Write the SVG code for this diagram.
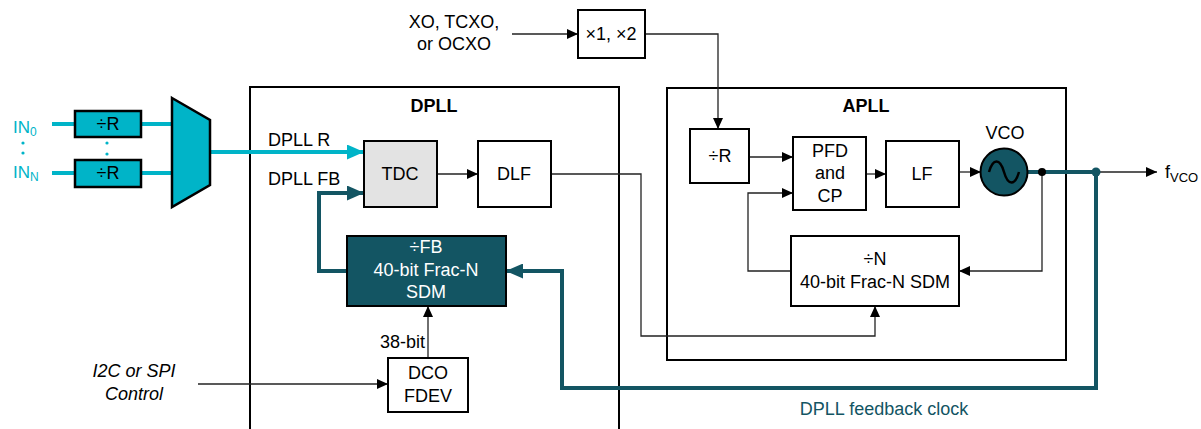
<svg xmlns="http://www.w3.org/2000/svg" width="1201" height="429" viewBox="0 0 1201 429">
<style>
text{font-family:"Liberation Sans",Arial,sans-serif;font-size:18px;fill:#000}
.c{text-anchor:middle}
.b{font-weight:bold}
.box{fill:#fff;stroke:#000;stroke-width:2}
.frame{fill:none;stroke:#000;stroke-width:2}
.thin{fill:none;stroke:#222;stroke-width:1.3}
.cy{fill:none;stroke:#00b4c8;stroke-width:4}
.tl{fill:none;stroke:#135563;stroke-width:4}
.cybox{fill:#00b4c8;stroke:#000;stroke-width:2.5}
.ct{fill:#00b4c8}
.w{fill:#fff}
.tt{fill:#135563}
</style>
<defs>
<marker id="a" markerUnits="userSpaceOnUse" markerWidth="11" markerHeight="10" viewBox="0 0 11 10" refX="11" refY="5" orient="auto"><path d="M0,0 L11,5 L0,10 z" fill="#000"/></marker>
<marker id="ac" markerUnits="userSpaceOnUse" markerWidth="17" markerHeight="15" viewBox="0 0 17 15" refX="17" refY="7.5" orient="auto"><path d="M0,0 L17,7.5 L0,15 z" fill="#00b4c8"/></marker>
<marker id="at" markerUnits="userSpaceOnUse" markerWidth="17" markerHeight="15" viewBox="0 0 17 15" refX="17" refY="7.5" orient="auto"><path d="M0,0 L17,7.5 L0,15 z" fill="#135563"/></marker>
</defs>
<rect width="1201" height="429" fill="#fff"/>

<g id="dpll">
<path class="frame" d="M250,440 V87 H619 V440"/>
<text class="c b" x="434" y="112">DPLL</text>
</g>
<g id="apll">
<rect class="frame" x="667" y="88" width="399" height="272"/>
<text class="c b" x="866" y="112">APLL</text>
</g>

<g id="connectors">
<path class="cy" d="M52,124 H75 M141,124 H172 M52,173 H75 M141,173 H172"/>
<path class="cy" d="M210,152 H364" marker-end="url(#ac)"/>
<path class="tl" d="M347,271 H319 V193 H364" marker-end="url(#at)"/>
<path class="tl" d="M1027,172 H1096 V388 H562 V271 H506" marker-end="url(#at)"/>
<path class="thin" d="M512,34 H578" marker-end="url(#a)"/>
<path class="thin" d="M645,34 H718 V129" marker-end="url(#a)"/>
<path class="thin" d="M749,157 H793" marker-end="url(#a)"/>
<path class="thin" d="M791,271 H748 V193 H793" marker-end="url(#a)"/>
<path class="thin" d="M866,174 H886" marker-end="url(#a)"/>
<path class="thin" d="M959,172 H981" marker-end="url(#a)"/>
<path class="thin" d="M1096,172 H1157" marker-end="url(#a)"/>
<path class="thin" d="M1042,172 V271 H959" marker-end="url(#a)"/>
<path class="thin" d="M437,174 H478" marker-end="url(#a)"/>
<path class="thin" d="M551,174 H641 V336 H875 V306" marker-end="url(#a)"/>
<path class="thin" d="M428,358 V306" marker-end="url(#a)"/>
<path class="thin" d="M198,384 H388" marker-end="url(#a)"/>
<circle cx="1042" cy="172" r="4" fill="#000"/>
<circle cx="1096" cy="172" r="4.5" fill="#135563"/>
<text class="c tt" x="884" y="415">DPLL feedback clock</text>
<text x="268" y="146">DPLL R</text>
<text x="268" y="185">DPLL FB</text>
<text x="425" y="348" text-anchor="end">38-bit</text>
</g>

<g id="inputs">
<text class="ct" x="13" y="133" font-size="17" style="font-size:17px">IN<tspan dy="3" style="font-size:12px">0</tspan></text>
<text class="ct" x="13" y="178" style="font-size:17px">IN<tspan dy="3" style="font-size:12px">N</tspan></text>
<circle class="ct" cx="23" cy="143" r="1.6"/>
<circle class="ct" cx="23" cy="153" r="1.6"/>
<circle class="ct" cx="107" cy="143" r="1.6"/>
<circle class="ct" cx="107" cy="154" r="1.6"/>
</g>
<g id="divR0">
<rect class="cybox" x="75" y="111" width="66" height="26"/>
<text class="c" x="108" y="130">÷R</text>
</g>
<g id="divRN">
<rect class="cybox" x="75" y="160" width="66" height="27"/>
<text class="c" x="108" y="179">÷R</text>
</g>
<g id="mux">
<path class="cybox" d="M172,98 L210,120 L210,185 L172,207 Z"/>
</g>

<g id="tdc">
<rect class="box" x="364" y="141" width="73" height="66" fill="#e3e3e3" style="fill:#e3e3e3"/>
<text class="c" x="400" y="180">TDC</text>
</g>
<g id="dlf">
<rect class="box" x="478" y="141" width="73" height="66"/>
<text class="c" x="514" y="180">DLF</text>
</g>
<g id="fbdiv">
<rect x="347" y="236" width="159" height="70" fill="#135563" stroke="#000" stroke-width="2"/>
<text class="c w" x="426" y="253">÷FB</text>
<text class="c w" x="426" y="276">40-bit Frac-N</text>
<text class="c w" x="426" y="298">SDM</text>
</g>
<g id="dco">
<rect class="box" x="388" y="358" width="80" height="54"/>
<text class="c" x="428" y="379">DCO</text>
<text class="c" x="428" y="402">FDEV</text>
</g>
<g id="i2c">
<text class="c" x="134" y="377" font-style="italic">I2C or SPI</text>
<text class="c" x="134" y="400" font-style="italic">Control</text>
</g>

<g id="xo">
<text class="c" x="454" y="28">XO, TCXO,</text>
<text class="c" x="454" y="50">or OCXO</text>
</g>
<g id="mult">
<rect class="box" x="578" y="10" width="67" height="48"/>
<text class="c" x="611" y="40">×1, ×2</text>
</g>

<g id="apllR">
<rect class="box" x="690" y="129" width="59" height="54"/>
<text class="c" x="720" y="162">÷R</text>
</g>
<g id="pfd">
<rect class="box" x="793" y="137" width="73" height="73"/>
<text class="c" x="830" y="157">PFD</text>
<text class="c" x="830" y="179">and</text>
<text class="c" x="830" y="202">CP</text>
</g>
<g id="lf">
<rect class="box" x="886" y="141" width="73" height="66"/>
<text class="c" x="922" y="180">LF</text>
</g>
<g id="vco">
<circle cx="1004" cy="172" r="23.5" fill="#135563" stroke="#000" stroke-width="2"/>
<path d="M989,172 c4,-14 11,-14 15,0 c4,14 11,14 15,0" fill="none" stroke="#000" stroke-width="2.5"/>
<text class="c" x="1005" y="139">VCO</text>
</g>
<g id="ndiv">
<rect class="box" x="791" y="236" width="168" height="70"/>
<text class="c" x="875" y="265">÷N</text>
<text class="c" x="875" y="288">40-bit Frac-N SDM</text>
</g>
<g id="fvco">
<text x="1165" y="178">f<tspan dy="4" style="font-size:13px">VCO</tspan></text>
</g>
</svg>
